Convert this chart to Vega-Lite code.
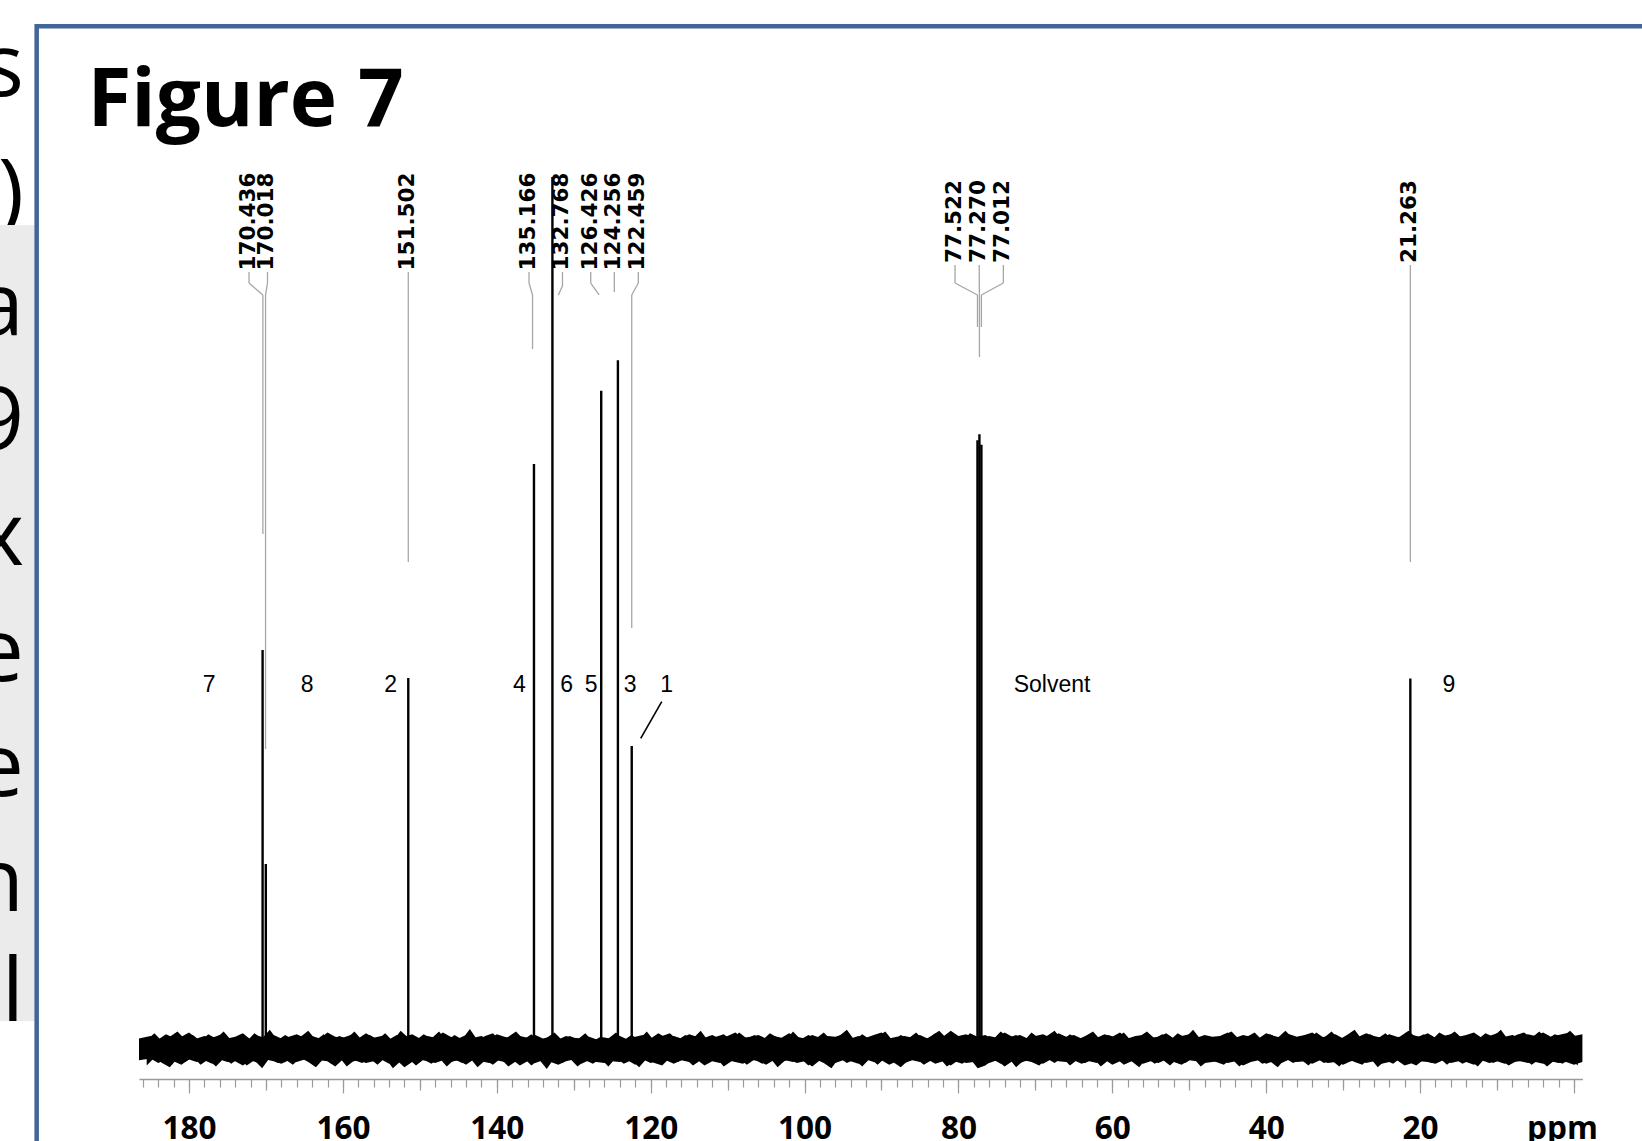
{
  "$schema": "https://vega.github.io/schema/vega-lite/v6.json",
  "width": 1443.4,
  "height": 1079,
  "autosize": {"type": "none"},
  "padding": {"left": 139, "top": 0, "right": 59.6, "bottom": 62},
  "background": "white",
  "config": {"view": {"stroke": null}},
  "resolve": {"axis": {"x": "independent"}},
  "layer": [
    {
      "data": {"values": [{"t":")","p":201.45,"i":94.8}]},
      "mark": {"type": "text", "font": "Open Sans", "fontSize": 88, "align": "right", "baseline": "alphabetic", "color": "black"},
      "encoding": {
        "x": {"field": "p", "type": "quantitative", "scale": {"domain": [-1.1, 186.5], "reverse": true, "nice": false, "zero": false}, "axis": null},
        "y": {"field": "i", "type": "quantitative", "scale": {"domain": [-3.44, 120.3], "nice": false, "zero": false}, "axis": null},
        "text": {"field": "t", "type": "nominal"}
      }
    },
    {
      "data": {"values": [{"p1":230,"p2":199.8,"i1":94.5,"i2":3.21}]},
      "mark": {"type": "rect", "fill": "#ebebeb"},
      "encoding": {
        "x": {"field": "p1", "type": "quantitative", "axis": null},
        "x2": {"field": "p2"},
        "y": {"field": "i1", "type": "quantitative", "axis": null},
        "y2": {"field": "i2"}
      }
    },
    {
      "data": {"values": [
        {"t":"s","p":201.45,"i":109.29},{"t":"a","p":201.45,"i":81.88},{"t":"9","p":201.45,"i":68.69},
        {"t":"x","p":201.45,"i":55.5},{"t":"e","p":201.45,"i":42.2},{"t":"e","p":201.45,"i":29.01},
        {"t":"n","p":201.45,"i":15.83},{"t":"l","p":201.45,"i":3.21}
      ]},
      "mark": {"type": "text", "font": "Open Sans", "fontSize": 88, "align": "right", "baseline": "alphabetic", "color": "black"},
      "encoding": {
        "x": {"field": "p", "type": "quantitative", "axis": null},
        "y": {"field": "i", "type": "quantitative", "axis": null},
        "text": {"field": "t", "type": "nominal"}
      }
    },
    {
      "data": {"values": [{"p1":199.8,"p2":-40,"i1":117.3,"i2":-40}]},
      "mark": {"type": "rect", "fill": "white", "stroke": "#41679a", "strokeWidth": 4.5},
      "encoding": {
        "x": {"field": "p1", "type": "quantitative", "axis": null},
        "x2": {"field": "p2"},
        "y": {"field": "i1", "type": "quantitative", "axis": null},
        "y2": {"field": "i2"}
      }
    },
    {
      "data": {"values": [{"t":"Figure 7","p":193.2,"i":105.85}]},
      "mark": {"type": "text", "font": "Open Sans", "fontWeight": "bold", "fontSize": 80, "align": "left", "baseline": "alphabetic", "color": "black"},
      "encoding": {
        "x": {"field": "p", "type": "quantitative", "axis": null},
        "y": {"field": "i", "type": "quantitative", "axis": null},
        "text": {"field": "t", "type": "nominal"}
      }
    },
    {
      "data": {"values": [
      {"p":186.5,"h":1.2,"l":-1.3},{"p":185,"h":1.5,"l":-1.1},{"p":184,"h":1.1,"l":-1.6},{"p":183,"h":1.7,"l":-1.2},{"p":182,"h":1.3,"l":-1.4},{"p":181,"h":1.4,"l":-1.8},{"p":180,"h":1.9,"l":-1.2},{"p":179,"h":1.2,"l":-1.5},{"p":178,"h":1.5,"l":-1.3},{"p":177,"h":1.3,"l":-1.7},
      {"p":176,"h":1.6,"l":-1.2},{"p":175,"h":1.2,"l":-1.5},{"p":174,"h":1.4,"l":-1.4},{"p":173,"h":1.8,"l":-1.9},{"p":172,"h":1.1,"l":-1.3},{"p":171,"h":1.5,"l":-1.6},{"p":170,"h":1.3,"l":-1.2},{"p":169,"h":1.6,"l":-1.4},{"p":168,"h":1.2,"l":-1.7},{"p":167,"h":1.4,"l":-1.3},
      {"p":166,"h":1.7,"l":-1.5},{"p":165,"h":1.3,"l":-1.2},{"p":164,"h":1.5,"l":-1.6},{"p":163,"h":1.2,"l":-1.3},{"p":162,"h":1.9,"l":-1.4},{"p":161,"h":1.4,"l":-2.0},{"p":160,"h":1.3,"l":-1.2},{"p":159,"h":1.6,"l":-1.5},{"p":158,"h":1.2,"l":-1.3},{"p":157,"h":1.8,"l":-1.6},
      {"p":156,"h":1.3,"l":-1.4},{"p":155,"h":1.5,"l":-1.2},{"p":154,"h":1.1,"l":-1.7},{"p":153,"h":1.6,"l":-1.3},{"p":152,"h":1.4,"l":-2.1},{"p":151,"h":1.7,"l":-1.5},{"p":150,"h":1.2,"l":-1.2},{"p":149,"h":1.5,"l":-1.4},{"p":148,"h":1.3,"l":-1.6},{"p":147,"h":1.9,"l":-1.3},
      {"p":146,"h":1.4,"l":-1.5},{"p":145,"h":1.2,"l":-1.3},{"p":144,"h":1.6,"l":-1.8},{"p":143,"h":1.3,"l":-1.2},{"p":142,"h":1.5,"l":-1.4},{"p":141,"h":1.1,"l":-1.6},{"p":140,"h":1.7,"l":-1.3},{"p":139,"h":1.4,"l":-1.5},{"p":138,"h":1.2,"l":-1.2},{"p":137,"h":1.5,"l":-1.9},
      {"p":136,"h":1.3,"l":-1.4},{"p":135,"h":1.6,"l":-1.6},{"p":134,"h":1.2,"l":-1.3},{"p":133,"h":1.4,"l":-1.5},{"p":132,"h":1.1,"l":-1.8},{"p":131,"h":1.5,"l":-1.4},{"p":130,"h":1.3,"l":-1.2},{"p":129,"h":1.2,"l":-1.7},{"p":128,"h":1.4,"l":-1.3},{"p":127,"h":1.1,"l":-1.5},
      {"p":126,"h":1.3,"l":-1.6},{"p":125,"h":1.2,"l":-1.4},{"p":124,"h":1.5,"l":-1.5},{"p":123,"h":1.1,"l":-1.3},{"p":122,"h":1.4,"l":-1.8},{"p":121,"h":1.6,"l":-1.2},{"p":120,"h":1.2,"l":-1.6},{"p":119,"h":1.8,"l":-1.4},{"p":118,"h":1.3,"l":-1.3},{"p":117,"h":1.5,"l":-1.7},
      {"p":116,"h":1.2,"l":-1.3},{"p":115,"h":1.7,"l":-1.5},{"p":114,"h":1.4,"l":-1.2},{"p":113,"h":1.3,"l":-1.9},{"p":112,"h":1.6,"l":-1.4},{"p":111,"h":1.2,"l":-1.6},{"p":110,"h":1.5,"l":-1.3},{"p":109,"h":1.9,"l":-1.5},{"p":108,"h":1.3,"l":-1.7},{"p":107,"h":1.4,"l":-1.2},
      {"p":106,"h":1.6,"l":-1.4},{"p":105,"h":1.2,"l":-1.8},{"p":104,"h":1.5,"l":-1.3},{"p":103,"h":1.3,"l":-1.5},{"p":102,"h":1.8,"l":-1.2},{"p":101,"h":1.4,"l":-1.6},{"p":100,"h":1.2,"l":-1.4},{"p":99,"h":1.6,"l":-2.0},{"p":98,"h":1.3,"l":-1.3},{"p":97,"h":1.5,"l":-1.5},
      {"p":96,"h":1.4,"l":-1.6},{"p":95,"h":1.7,"l":-1.3},{"p":94,"h":1.2,"l":-1.4},{"p":93,"h":1.5,"l":-1.7},{"p":92,"h":1.3,"l":-1.2},{"p":91,"h":1.6,"l":-1.5},{"p":90,"h":1.9,"l":-1.3},{"p":89,"h":1.2,"l":-1.8},{"p":88,"h":1.4,"l":-1.4},{"p":87,"h":1.5,"l":-1.6},
      {"p":86,"h":1.3,"l":-1.3},{"p":85,"h":1.6,"l":-1.5},{"p":84,"h":1.2,"l":-1.2},{"p":83,"h":1.8,"l":-1.7},{"p":82,"h":1.4,"l":-1.4},{"p":81,"h":2.1,"l":-1.9},{"p":80,"h":1.5,"l":-1.3},{"p":79,"h":1.7,"l":-1.6},{"p":78,"h":1.3,"l":-1.5},{"p":77,"h":1.2,"l":-1.8},
      {"p":76,"h":1.5,"l":-1.6},{"p":75,"h":1.3,"l":-1.3},{"p":74,"h":1.9,"l":-2.0},{"p":73,"h":1.4,"l":-1.4},{"p":72,"h":1.6,"l":-1.6},{"p":71,"h":1.2,"l":-1.3},{"p":70,"h":1.5,"l":-1.5},{"p":69,"h":1.7,"l":-1.7},{"p":68,"h":1.3,"l":-1.2},{"p":67,"h":1.8,"l":-1.4},
      {"p":66,"h":1.4,"l":-1.5},{"p":65,"h":1.6,"l":-1.3},{"p":64,"h":1.2,"l":-1.7},{"p":63,"h":1.5,"l":-1.4},{"p":62,"h":1.3,"l":-1.6},{"p":61,"h":1.7,"l":-1.2},{"p":60,"h":1.4,"l":-1.8},{"p":59,"h":1.9,"l":-1.4},{"p":58,"h":1.2,"l":-1.5},{"p":57,"h":1.5,"l":-1.3},
      {"p":56,"h":1.6,"l":-1.7},{"p":55,"h":1.3,"l":-1.4},{"p":54,"h":1.4,"l":-1.6},{"p":53,"h":1.8,"l":-1.2},{"p":52,"h":1.2,"l":-1.5},{"p":51,"h":1.5,"l":-1.8},{"p":50,"h":1.7,"l":-1.3},{"p":49,"h":1.3,"l":-1.4},{"p":48,"h":1.6,"l":-1.6},{"p":47,"h":1.4,"l":-1.5},
      {"p":46,"h":1.5,"l":-1.3},{"p":45,"h":1.9,"l":-1.6},{"p":44,"h":1.3,"l":-1.4},{"p":43,"h":1.6,"l":-1.9},{"p":42,"h":1.4,"l":-1.5},{"p":41,"h":1.2,"l":-1.3},{"p":40,"h":1.8,"l":-1.7},{"p":39,"h":1.5,"l":-1.4},{"p":38,"h":1.3,"l":-1.6},{"p":37,"h":1.7,"l":-1.2},
      {"p":36,"h":1.4,"l":-1.5},{"p":35,"h":1.6,"l":-1.4},{"p":34,"h":1.9,"l":-1.7},{"p":33,"h":1.3,"l":-1.3},{"p":32,"h":1.5,"l":-1.6},{"p":31,"h":1.7,"l":-1.5},{"p":30,"h":1.2,"l":-1.8},{"p":29,"h":1.6,"l":-1.4},{"p":28,"h":1.4,"l":-1.3},{"p":27,"h":1.8,"l":-1.6},
      {"p":26,"h":1.5,"l":-1.4},{"p":25,"h":1.3,"l":-1.7},{"p":24,"h":1.7,"l":-1.5},{"p":23,"h":1.4,"l":-1.3},{"p":22,"h":1.2,"l":-1.9},{"p":21,"h":1.6,"l":-1.6},{"p":20,"h":1.4,"l":-1.4},{"p":19,"h":1.8,"l":-1.5},{"p":18,"h":1.3,"l":-1.7},{"p":17,"h":1.5,"l":-1.3},
      {"p":16,"h":1.7,"l":-1.6},{"p":15,"h":1.4,"l":-1.4},{"p":14,"h":1.6,"l":-1.5},{"p":13,"h":1.9,"l":-1.8},{"p":12,"h":1.3,"l":-1.3},{"p":11,"h":1.5,"l":-1.6},{"p":10,"h":1.8,"l":-1.4},{"p":9,"h":1.4,"l":-1.7},{"p":8,"h":1.6,"l":-1.5},{"p":7,"h":1.3,"l":-1.4},
      {"p":6,"h":1.7,"l":-1.6},{"p":5,"h":1.5,"l":-1.5},{"p":4,"h":1.9,"l":-1.7},{"p":3,"h":1.4,"l":-1.4},{"p":2,"h":1.6,"l":-1.6},{"p":1,"h":1.8,"l":-1.5},{"p":0,"h":1.5,"l":-1.8},{"p":-1.1,"h":1.7,"l":-1.5}
      ]},
      "mark": {"type": "area", "color": "black"},
      "encoding": {
        "x": {
          "field": "p", "type": "quantitative",
          "axis": {
            "title": null, "orient": "bottom", "zindex": 1,
            "values": [186,184,182,180,178,176,174,172,170,168,166,164,162,160,158,156,154,152,150,148,146,144,142,140,138,136,134,132,130,128,126,124,122,120,118,116,114,112,110,108,106,104,102,100,98,96,94,92,90,88,86,84,82,80,78,76,74,72,70,68,66,64,62,60,58,56,54,52,50,48,46,44,42,40,38,36,34,32,30,28,26,24,22,20,18,16,14,12,10,8,6,4,2,0],
            "grid": false,
            "domainColor": "#9b9b9b",
            "domainWidth": 1.5,
            "tickColor": "#9b9b9b",
            "tickWidth": 1.2,
            "tickSize": 8,
            "labels": false
          }
        },
        "y": {"field": "h", "type": "quantitative", "axis": null},
        "y2": {"field": "l"}
      }
    },
    {
      "data": {"values": [
      {"p":185.5,"h":1.0,"l":-1.9},{"p":184.5,"h":1.8,"l":-1.0},{"p":183.5,"h":0.9,"l":-1.6},{"p":182.5,"h":1.4,"l":-2.1},{"p":181.5,"h":2.0,"l":-1.1},{"p":180.5,"h":1.1,"l":-1.5},{"p":179.5,"h":1.6,"l":-0.9},{"p":178.5,"h":0.9,"l":-1.8},{"p":177.5,"h":1.7,"l":-1.2},{"p":176.5,"h":1.2,"l":-2.0},
      {"p":175.5,"h":2.0,"l":-1.1},{"p":174.5,"h":1.0,"l":-1.7},{"p":173.5,"h":1.5,"l":-1.0},{"p":172.5,"h":0.9,"l":-1.9},{"p":171.5,"h":1.8,"l":-1.3},{"p":170.5,"h":1.2,"l":-2.2},{"p":169.5,"h":2.2,"l":-1.0},{"p":168.5,"h":1.0,"l":-1.6},{"p":167.5,"h":1.6,"l":-1.2},{"p":166.5,"h":1.1,"l":-1.8},
      {"p":165.5,"h":1.4,"l":-1.0},{"p":164.5,"h":2.1,"l":-1.5},{"p":163.5,"h":1.0,"l":-2.1},{"p":162.5,"h":1.7,"l":-1.1},{"p":161.5,"h":0.9,"l":-1.7},{"p":160.5,"h":1.5,"l":-0.9},{"p":159.5,"h":1.2,"l":-2.0},{"p":158.5,"h":2.0,"l":-1.3},{"p":157.5,"h":1.0,"l":-1.6},{"p":156.5,"h":1.6,"l":-1.1},
      {"p":155.5,"h":1.1,"l":-1.8},{"p":154.5,"h":1.8,"l":-1.0},{"p":153.5,"h":0.9,"l":-2.2},{"p":152.5,"h":2.1,"l":-1.4},{"p":151.5,"h":1.3,"l":-1.1},{"p":150.5,"h":1.0,"l":-1.9},{"p":149.5,"h":1.7,"l":-1.2},{"p":148.5,"h":1.2,"l":-1.7},{"p":147.5,"h":2.0,"l":-1.0},{"p":146.5,"h":0.9,"l":-2.0},
      {"p":145.5,"h":1.6,"l":-1.2},{"p":144.5,"h":1.1,"l":-1.6},{"p":143.5,"h":2.3,"l":-1.0},{"p":142.5,"h":1.0,"l":-2.1},{"p":141.5,"h":1.5,"l":-1.3},{"p":140.5,"h":1.8,"l":-1.8},{"p":139.5,"h":0.9,"l":-1.1},{"p":138.5,"h":1.4,"l":-2.0},{"p":137.5,"h":2.0,"l":-1.4},{"p":136.5,"h":1.1,"l":-1.0},
      {"p":135.5,"h":1.7,"l":-1.9},{"p":134.5,"h":0.9,"l":-1.2},{"p":133.5,"h":1.3,"l":-2.3},{"p":132.5,"h":1.9,"l":-1.0},{"p":131.5,"h":1.0,"l":-1.6},{"p":130.5,"h":1.5,"l":-1.1},{"p":129.5,"h":1.1,"l":-2.0},{"p":128.5,"h":1.8,"l":-1.3},{"p":127.5,"h":0.9,"l":-1.7},{"p":126.5,"h":1.4,"l":-1.1},
      {"p":125.5,"h":1.2,"l":-2.0},{"p":124.5,"h":1.9,"l":-1.0},{"p":123.5,"h":1.0,"l":-1.7},{"p":122.5,"h":1.6,"l":-1.3},{"p":121.5,"h":1.1,"l":-2.1},{"p":120.5,"h":2.0,"l":-1.1},{"p":119.5,"h":0.9,"l":-1.6},{"p":118.5,"h":1.5,"l":-1.9},{"p":117.5,"h":1.8,"l":-1.0},{"p":116.5,"h":1.0,"l":-1.5},
      {"p":115.5,"h":1.6,"l":-1.1},{"p":114.5,"h":1.2,"l":-1.9},{"p":113.5,"h":2.1,"l":-1.3},{"p":112.5,"h":0.9,"l":-1.6},{"p":111.5,"h":1.4,"l":-1.0},{"p":110.5,"h":1.7,"l":-2.0},{"p":109.5,"h":1.0,"l":-1.4},{"p":108.5,"h":1.9,"l":-1.1},{"p":107.5,"h":1.2,"l":-1.8},{"p":106.5,"h":1.6,"l":-1.2},
      {"p":105.5,"h":1.0,"l":-1.7},{"p":104.5,"h":1.8,"l":-1.0},{"p":103.5,"h":1.3,"l":-2.1},{"p":102.5,"h":0.9,"l":-1.3},{"p":101.5,"h":2.0,"l":-1.5},{"p":100.5,"h":1.1,"l":-1.1},{"p":99.5,"h":1.6,"l":-1.9},{"p":98.5,"h":1.2,"l":-1.2},{"p":97.5,"h":1.9,"l":-1.6},{"p":96.5,"h":1.0,"l":-2.2},
      {"p":95.5,"h":1.5,"l":-1.0},{"p":94.5,"h":2.2,"l":-1.6},{"p":93.5,"h":1.0,"l":-1.2},{"p":92.5,"h":1.7,"l":-2.0},{"p":91.5,"h":1.1,"l":-1.1},{"p":90.5,"h":1.4,"l":-1.8},{"p":89.5,"h":2.0,"l":-1.0},{"p":88.5,"h":0.9,"l":-1.5},{"p":87.5,"h":1.6,"l":-2.1},{"p":86.5,"h":1.2,"l":-1.3},
      {"p":85.5,"h":1.9,"l":-1.1},{"p":84.5,"h":1.0,"l":-1.8},{"p":83.5,"h":1.5,"l":-1.3},{"p":82.5,"h":2.1,"l":-1.0},{"p":81.5,"h":1.2,"l":-2.0},{"p":80.5,"h":1.7,"l":-1.4},{"p":79.5,"h":0.9,"l":-1.7},{"p":78.5,"h":1.8,"l":-1.1},{"p":77.5,"h":1.4,"l":-2.2},{"p":76.5,"h":1.6,"l":-1.9},
      {"p":75.5,"h":1.1,"l":-1.2},{"p":74.5,"h":2.0,"l":-1.7},{"p":73.5,"h":1.3,"l":-1.0},{"p":72.5,"h":1.6,"l":-2.1},{"p":71.5,"h":0.9,"l":-1.3},{"p":70.5,"h":1.9,"l":-1.5},{"p":69.5,"h":1.2,"l":-1.9},{"p":68.5,"h":1.5,"l":-1.1},{"p":67.5,"h":2.1,"l":-1.6},{"p":66.5,"h":1.0,"l":-1.0},
      {"p":65.5,"h":1.7,"l":-1.9},{"p":64.5,"h":1.1,"l":-1.2},{"p":63.5,"h":1.5,"l":-1.6},{"p":62.5,"h":2.0,"l":-1.0},{"p":61.5,"h":1.0,"l":-2.0},{"p":60.5,"h":1.6,"l":-1.3},{"p":59.5,"h":1.3,"l":-1.1},{"p":58.5,"h":1.9,"l":-1.8},{"p":57.5,"h":0.9,"l":-1.4},{"p":56.5,"h":1.4,"l":-2.1},
      {"p":55.5,"h":2.0,"l":-1.0},{"p":54.5,"h":1.2,"l":-1.7},{"p":53.5,"h":1.7,"l":-1.2},{"p":52.5,"h":1.0,"l":-1.9},{"p":51.5,"h":1.8,"l":-1.1},{"p":50.5,"h":1.3,"l":-1.6},{"p":49.5,"h":2.2,"l":-1.0},{"p":48.5,"h":1.1,"l":-2.0},{"p":47.5,"h":1.5,"l":-1.3},{"p":46.5,"h":1.0,"l":-1.5},
      {"p":45.5,"h":1.6,"l":-1.8},{"p":44.5,"h":2.0,"l":-1.1},{"p":43.5,"h":1.1,"l":-2.0},{"p":42.5,"h":1.4,"l":-1.3},{"p":41.5,"h":1.9,"l":-1.0},{"p":40.5,"h":1.0,"l":-1.7},{"p":39.5,"h":1.7,"l":-1.4},{"p":38.5,"h":1.3,"l":-2.1},{"p":37.5,"h":2.1,"l":-1.1},{"p":36.5,"h":1.2,"l":-1.6},
      {"p":35.5,"h":1.5,"l":-1.2},{"p":34.5,"h":1.0,"l":-1.9},{"p":33.5,"h":1.9,"l":-1.0},{"p":32.5,"h":1.3,"l":-1.6},{"p":31.5,"h":2.0,"l":-1.3},{"p":30.5,"h":1.1,"l":-2.0},{"p":29.5,"h":1.6,"l":-1.1},{"p":28.5,"h":2.2,"l":-1.5},{"p":27.5,"h":1.0,"l":-1.8},{"p":26.5,"h":1.7,"l":-1.0},
      {"p":25.5,"h":1.2,"l":-2.1},{"p":24.5,"h":1.8,"l":-1.3},{"p":23.5,"h":1.0,"l":-1.7},{"p":22.5,"h":1.5,"l":-1.0},{"p":21.5,"h":2.1,"l":-1.5},{"p":20.5,"h":1.3,"l":-1.9},{"p":19.5,"h":1.7,"l":-1.2},{"p":18.5,"h":1.0,"l":-1.6},{"p":17.5,"h":1.9,"l":-1.0},{"p":16.5,"h":1.4,"l":-1.8},
      {"p":15.5,"h":2.0,"l":-1.1},{"p":14.5,"h":1.2,"l":-1.7},{"p":13.5,"h":1.7,"l":-1.3},{"p":12.5,"h":1.1,"l":-2.0},{"p":11.5,"h":1.8,"l":-1.0},{"p":10.5,"h":1.4,"l":-1.6},{"p":9.5,"h":2.2,"l":-1.2},{"p":8.5,"h":1.0,"l":-1.9},{"p":7.5,"h":1.6,"l":-1.4},{"p":6.5,"h":1.9,"l":-1.1},
      {"p":5.5,"h":1.3,"l":-1.8},{"p":4.5,"h":2.0,"l":-1.2},{"p":3.5,"h":1.1,"l":-2.0},{"p":2.5,"h":1.7,"l":-1.3},{"p":1.5,"h":1.4,"l":-1.7},{"p":0.5,"h":2.1,"l":-1.1},{"p":-0.5,"h":1.2,"l":-1.9}
      ]},
      "mark": {"type": "area", "color": "black"},
      "encoding": {
        "x": {
          "field": "p", "type": "quantitative",
          "axis": {
            "title": null, "orient": "bottom", "zindex": 1,
            "values": [170,150,130,110,90,70,50,30,10],
            "grid": false, "domain": false, "labels": false,
            "tickColor": "#9b9b9b", "tickWidth": 1.2, "tickSize": 11
          }
        },
        "y": {"field": "h", "type": "quantitative", "axis": null},
        "y2": {"field": "l"}
      }
    },
    {
      "data": {"values": [
        {"p":170.436,"i":45.76,"b":-0.1},{"p":170.018,"i":21.22,"b":-0.1},{"p":151.502,"i":42.55,"b":-0.1},{"p":135.166,"i":67.09,"b":-0.1},
        {"p":132.768,"i":100,"b":-0.1},{"p":126.426,"i":75.5,"b":-0.1},{"p":124.256,"i":79.0,"b":-0.1},{"p":122.459,"i":34.75,"b":-0.1},
        {"p":77.522,"i":69.8,"b":-0.1},{"p":77.270,"i":70.5,"b":-0.1},{"p":77.012,"i":69.3,"b":-0.1},{"p":21.263,"i":42.5,"b":-0.1}
      ]},
      "mark": {"type": "rule", "color": "black", "strokeWidth": 2.4},
      "encoding": {
        "x": {
          "field": "p", "type": "quantitative",
          "axis": {
            "title": null, "orient": "bottom", "zindex": 1,
            "values": [180,160,140,120,100,80,60,40,20],
            "grid": false, "domain": false,
            "tickColor": "#9b9b9b", "tickWidth": 1.2, "tickSize": 14,
            "labelFont": "Open Sans", "labelFontWeight": "bold", "labelFontSize": 31.5, "labelColor": "black",
            "labelPadding": 20, "labelFlush": false, "labelOverlap": false
          }
        },
        "y": {"field": "i", "type": "quantitative", "axis": null},
        "y2": {"field": "b"}
      }
    },
    {
      "data": {"values": [
      {"pa":172.20,"ia":89.1,"pb":172.20,"ib":87.84},{"pa":172.20,"ia":87.84,"pb":170.40,"ib":86.47},{"pa":170.40,"ia":86.47,"pb":170.40,"ib":59.06},
      {"pa":169.80,"ia":89.1,"pb":169.80,"ib":87.84},{"pa":169.80,"ia":87.84,"pb":170.05,"ib":86.47},{"pa":170.05,"ia":86.47,"pb":170.05,"ib":34.40},
      {"pa":151.50,"ia":89.1,"pb":151.50,"ib":55.85},
      {"pa":135.81,"ia":89.1,"pb":135.81,"ib":87.84},{"pa":135.81,"ia":87.84,"pb":135.35,"ib":86.47},{"pa":135.35,"ia":86.47,"pb":135.35,"ib":80.28},
      {"pa":131.46,"ia":89.1,"pb":131.46,"ib":87.5},{"pa":131.46,"ia":87.5,"pb":132.0,"ib":86.47},
      {"pa":127.79,"ia":89.1,"pb":127.79,"ib":87.84},{"pa":127.79,"ia":87.84,"pb":126.7,"ib":86.47},
      {"pa":124.72,"ia":89.1,"pb":124.72,"ib":86.8},
      {"pa":121.60,"ia":89.1,"pb":121.60,"ib":87.84},{"pa":121.60,"ia":87.84,"pb":122.459,"ib":86.47},{"pa":122.459,"ia":86.47,"pb":122.459,"ib":48.28},
      {"pa":80.44,"ia":89.91,"pb":80.44,"ib":87.84},{"pa":80.44,"ia":87.84,"pb":77.522,"ib":86.47},{"pa":77.522,"ia":86.47,"pb":77.522,"ib":82.8},
      {"pa":77.29,"ia":89.91,"pb":77.29,"ib":87.84},{"pa":77.29,"ia":87.84,"pb":77.270,"ib":86.47},{"pa":77.270,"ia":86.47,"pb":77.270,"ib":79.36},
      {"pa":74.16,"ia":89.91,"pb":74.16,"ib":87.84},{"pa":74.16,"ia":87.84,"pb":77.012,"ib":86.47},{"pa":77.012,"ia":86.47,"pb":77.012,"ib":82.8},
      {"pa":21.26,"ia":89.91,"pb":21.26,"ib":55.85}
      ]},
      "mark": {"type": "rule", "color": "#a6a6a6", "strokeWidth": 1.3},
      "encoding": {
        "x": {"field": "pa", "type": "quantitative", "axis": null},
        "x2": {"field": "pb"},
        "y": {"field": "ia", "type": "quantitative", "axis": null},
        "y2": {"field": "ib"}
      }
    },
    {
      "data": {"values": [{"pa":118.56,"ia":39.83,"pb":121.29,"ib":35.63}]},
      "mark": {"type": "rule", "color": "black", "strokeWidth": 1.6},
      "encoding": {
        "x": {"field": "pa", "type": "quantitative", "axis": null},
        "x2": {"field": "pb"},
        "y": {"field": "ia", "type": "quantitative", "axis": null},
        "y2": {"field": "ib"}
      }
    },
    {
      "data": {"values": [
        {"t":"170.436","p":172.20,"i":94.9},{"t":"170.018","p":169.80,"i":94.9},{"t":"151.502","p":151.50,"i":94.9},
        {"t":"135.166","p":135.81,"i":94.9},{"t":"132.768","p":131.46,"i":94.9},{"t":"126.426","p":127.79,"i":94.9},
        {"t":"124.256","p":124.72,"i":94.9},{"t":"122.459","p":121.60,"i":94.9},{"t":"77.522","p":80.44,"i":94.9},
        {"t":"77.270","p":77.29,"i":94.9},{"t":"77.012","p":74.16,"i":94.9},{"t":"21.263","p":21.26,"i":94.9}
      ]},
      "mark": {"type": "text", "font": "DejaVu Sans", "fontWeight": "bold", "fontSize": 21.5, "angle": 270, "align": "center", "baseline": "middle", "color": "black"},
      "encoding": {
        "x": {"field": "p", "type": "quantitative", "axis": null},
        "y": {"field": "i", "type": "quantitative", "axis": null},
        "text": {"field": "t", "type": "nominal"}
      }
    },
    {
      "data": {"values": [
        {"t":"7","p":177.40,"i":41.74},{"t":"8","p":164.66,"i":41.74},{"t":"2","p":153.80,"i":41.74},{"t":"4","p":137.07,"i":41.74},
        {"t":"6","p":130.91,"i":41.74},{"t":"5","p":127.75,"i":41.74},{"t":"3","p":122.68,"i":41.74},{"t":"1","p":117.91,"i":41.74},
        {"t":"Solvent","p":67.83,"i":41.74},{"t":"9","p":16.24,"i":41.74}
      ]},
      "mark": {"type": "text", "font": "Liberation Sans", "fontSize": 23, "align": "center", "baseline": "middle", "color": "black"},
      "encoding": {
        "x": {
          "field": "p", "type": "quantitative",
          "axis": {
            "title": null, "orient": "bottom", "zindex": 1,
            "values": [0],
            "grid": false, "domain": false,
            "tickColor": "#9b9b9b", "tickWidth": 1.2, "tickSize": 14,
            "labelExpr": "'ppm'",
            "labelOffset": -12,
            "labelFont": "Open Sans", "labelFontWeight": "bold", "labelFontSize": 31.5, "labelColor": "black",
            "labelPadding": 20, "labelFlush": false, "labelOverlap": false
          }
        },
        "y": {"field": "i", "type": "quantitative", "axis": null},
        "text": {"field": "t", "type": "nominal"}
      }
    }
  ]
}
